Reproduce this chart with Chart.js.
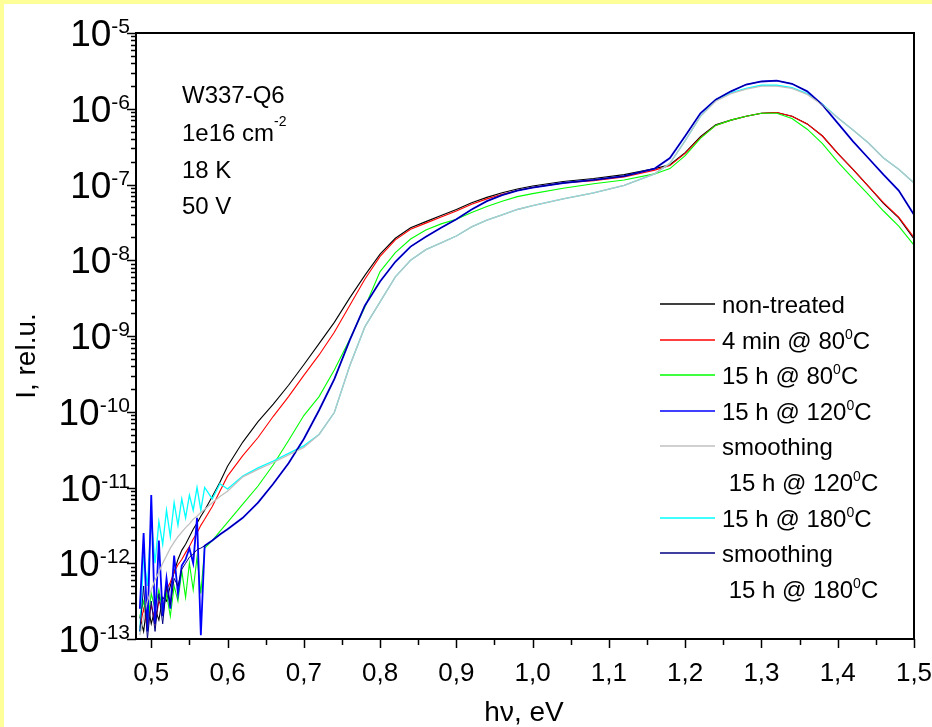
<!DOCTYPE html>
<html>
<head>
<meta charset="utf-8">
<script src="https://cdn.jsdelivr.net/npm/chart.js@4/dist/chart.umd.min.js"></script>
<style>
  body { margin: 0; background: #fff; }
  canvas { display: block; }
</style>
</head>
<body>
<canvas id="grafico" width="932" height="727"></canvas>
<script>
// photon energy, eV
const energy = [
  0.485, 0.49, 0.495, 0.50, 0.505, 0.51, 0.515, 0.52, 0.525, 0.53,
  0.535, 0.54, 0.545, 0.55, 0.555, 0.56, 0.565, 0.57, 0.58, 0.59,
  0.60, 0.62, 0.64, 0.66, 0.68, 0.70, 0.72, 0.74, 0.76, 0.78,
  0.80, 0.82, 0.84, 0.86, 0.88, 0.90, 0.92, 0.94, 0.96, 0.98,
  1.00, 1.04, 1.08, 1.12, 1.16, 1.18, 1.20, 1.22, 1.24, 1.26,
  1.28, 1.30, 1.32, 1.34, 1.36, 1.38, 1.40, 1.42, 1.44, 1.46,
  1.48, 1.50
];

// log10 of I (rel.u.)
const logNonTreated = [
  -12.7, -12.9, -12.5, -12.8, -12.6, -12.75, -12.45, -12.5, -12.3, -12.12,
  -11.95, -11.83, -11.75, -11.65, -11.55, -11.47, -11.38, -11.3, -11.12, -10.93,
  -10.72, -10.4, -10.13, -9.9, -9.65, -9.38, -9.1, -8.82, -8.5, -8.2,
  -7.92, -7.71, -7.57, -7.49, -7.41, -7.33, -7.24, -7.17, -7.11, -7.06,
  -7.02, -6.96, -6.92, -6.87, -6.79, -6.74, -6.58, -6.37, -6.21, -6.15,
  -6.1, -6.06, -6.05, -6.1, -6.2, -6.36, -6.59, -6.8, -7.02, -7.25,
  -7.44, -7.72
];
const log4min80 = [
  -12.85, -12.6, -12.85, -12.55, -12.8, -12.5, -12.6, -12.35, -12.25, -12.12,
  -12.02, -11.95, -11.86, -11.78, -11.68, -11.6, -11.5, -11.42, -11.25, -11.05,
  -10.85, -10.58, -10.34, -10.06, -9.8, -9.52, -9.25, -8.95, -8.6, -8.25,
  -7.95, -7.73, -7.59, -7.51, -7.43, -7.35, -7.26, -7.19, -7.13, -7.08,
  -7.04, -6.98, -6.95, -6.9, -6.81, -6.75, -6.59, -6.38, -6.22, -6.15,
  -6.1, -6.06, -6.05, -6.1, -6.2, -6.36, -6.59, -6.8, -7.02, -7.24,
  -7.43, -7.7
];
const log15h80 = [
  -12.7, -12.5, -12.8, -12.4, -12.6, -12.35, -12.65, -12.4, -12.7, -12.3,
  -12.5, -12.1, -12.45, -12.0, -12.35, -11.92, -12.4, -11.8, -11.7, -11.58,
  -11.46, -11.22, -10.98, -10.7, -10.38, -10.05, -9.8, -9.45, -9.05, -8.62,
  -8.15, -7.9, -7.72, -7.6, -7.52, -7.46, -7.37, -7.29, -7.22, -7.16,
  -7.12, -7.05, -6.99, -6.94, -6.86, -6.79, -6.62, -6.39, -6.22, -6.15,
  -6.1, -6.06, -6.06, -6.13, -6.27, -6.46, -6.7, -6.92, -7.13, -7.35,
  -7.55, -7.8
];
const log15h120 = [
  -12.6, -11.6, -12.9, -11.1, -12.8, -11.7, -12.7, -12.2, -12.6, -11.9,
  -12.4, -12.03, -11.95, -11.8, -12.0, -11.4, -12.95, -11.77, -11.7, -11.62,
  -11.55, -11.4, -11.2, -10.95, -10.68, -10.36, -9.98, -9.57, -9.06, -8.6,
  -8.28, -8.02, -7.82, -7.69, -7.57, -7.46, -7.33, -7.22, -7.14, -7.08,
  -7.04, -6.98, -6.94, -6.89, -6.79, -6.65, -6.36, -6.06, -5.88, -5.77,
  -5.68, -5.64, -5.63, -5.67, -5.77, -5.95, -6.19, -6.43, -6.65, -6.87,
  -7.08, -7.4
];
const logSmooth120 = [
  -12.95, -12.72, -12.5, -12.35, -12.22, -12.12, -12.0, -11.9, -11.8, -11.72,
  -11.65, -11.59, -11.53, -11.48, -11.42, -11.38, -11.33, -11.29, -11.2, -11.12,
  -11.05, -10.86, -10.76, -10.67, -10.57, -10.47, -10.3, -10.01, -9.4, -8.88,
  -8.55, -8.22, -8.0, -7.86, -7.77, -7.68, -7.56, -7.47, -7.4, -7.33,
  -7.28, -7.19, -7.11, -7.01, -6.86, -6.72, -6.42, -6.1, -5.9, -5.8,
  -5.74, -5.7, -5.7, -5.73, -5.81, -5.95, -6.12, -6.28, -6.45, -6.65,
  -6.8, -6.98
];
const log15h180 = [
  -12.9, -11.9, -12.3, -11.4, -12.0, -11.45, -11.75, -11.3, -11.65, -11.2,
  -11.5, -11.15, -11.4, -11.1, -11.3, -11.0, -11.3, -11.0, -11.15, -10.95,
  -11.02, -10.85, -10.74, -10.65, -10.55, -10.45, -10.3, -10.01, -9.4, -8.88,
  -8.55, -8.22, -8.0, -7.86, -7.77, -7.68, -7.56, -7.47, -7.4, -7.33,
  -7.28, -7.19, -7.11, -7.01, -6.86, -6.72, -6.42, -6.1, -5.89, -5.79,
  -5.73, -5.69, -5.69, -5.72, -5.8, -5.94, -6.12, -6.28, -6.45, -6.65,
  -6.8, -6.98
];
const logSmooth180 = [
  -12.9, -12.3, -13.0, -12.5, -12.9, -12.4, -12.8, -12.3, -12.55, -12.2,
  -12.3, -12.08, -12.0, -11.92, -11.88, -11.82, -11.8, -11.77, -11.7, -11.62,
  -11.55, -11.4, -11.2, -10.95, -10.68, -10.36, -9.98, -9.57, -9.06, -8.6,
  -8.28, -8.02, -7.82, -7.69, -7.57, -7.46, -7.33, -7.22, -7.14, -7.08,
  -7.04, -6.98, -6.94, -6.89, -6.79, -6.65, -6.36, -6.06, -5.88, -5.77,
  -5.68, -5.64, -5.63, -5.67, -5.77, -5.95, -6.19, -6.43, -6.65, -6.87,
  -7.08, -7.4
];

const seriesLabels = [
  "non-treated",
  "4 min @ 80⁰C",
  "15 h @ 80⁰C",
  "15 h @ 120⁰C",
  "smoothing\n 15 h @ 120⁰C",
  "15 h @ 180⁰C",
  "smoothing\n 15 h @ 180⁰C"
];
const seriesColors = ["#000000", "#ff0000", "#00ff00", "#0000ff", "#c0c0c0", "#00ffff", "#000080"];
const seriesLogs = [logNonTreated, log4min80, log15h80, log15h120, logSmooth120, log15h180, logSmooth180];
// lower value is drawn on top
const seriesOrder = [7, 6, 5, 3, 2, 4, 1];
const seriesWidths = [1.1, 1.1, 1.1, 1.8, 1.3, 1.3, 1.0];

const yTickValues = [1e-13, 1e-12, 1e-11, 1e-10, 1e-9, 1e-8, 1e-7, 1e-6, 1e-5];
const yTickLabels = ["10⁻¹³", "10⁻¹²", "10⁻¹¹", "10⁻¹⁰", "10⁻⁹", "10⁻⁸", "10⁻⁷", "10⁻⁶", "10⁻⁵"];
const xTickValues = [0.5, 0.6, 0.7, 0.8, 0.9, 1.0, 1.1, 1.2, 1.3, 1.4, 1.5];
const xTickLabels = ["0,5", "0,6", "0,7", "0,8", "0,9", "1,0", "1,1", "1,2", "1,3", "1,4", "1,5"];
const infoLines = ["W337-Q6", "1e16 cm⁻²", "18 K", "50 V"];

const FONT = '"Liberation Sans", Arial, sans-serif';
const SUP = { "⁰": "0", "¹": "1", "²": "2", "³": "3", "⁴": "4", "⁵": "5", "⁶": "6", "⁷": "7", "⁸": "8", "⁹": "9", "⁻": "-" };

function splitRuns(text) {
  let runs = [];
  for (const ch of text) {
    const sup = ch in SUP;
    const c = sup ? SUP[ch] : ch;
    if (runs.length && runs[runs.length - 1].sup === sup) runs[runs.length - 1].t += c;
    else runs.push({ t: c, sup: sup });
  }
  return runs;
}

// text with superscripts, y is the baseline
function drawRich(ctx, text, x, y, size, supSize, rise, align) {
  const runs = splitRuns(text);
  let total = 0;
  runs.forEach((r) => {
    ctx.font = `${r.sup ? supSize : size}px ${FONT}`;
    r.w = ctx.measureText(r.t).width;
    total += r.w;
  });
  let cx = align === "right" ? x - total : align === "center" ? x - total / 2 : x;
  ctx.textAlign = "left";
  ctx.textBaseline = "alphabetic";
  runs.forEach((r) => {
    ctx.font = `${r.sup ? supSize : size}px ${FONT}`;
    ctx.fillText(r.t, cx, r.sup ? y - rise : y);
    cx += r.w;
  });
}

const datasets = seriesLogs.map((arr, i) => ({
  label: seriesLabels[i],
  data: energy.map((e, j) => ({ x: e, y: Math.pow(10, arr[j]) })),
  borderColor: seriesColors[i],
  borderWidth: seriesWidths[i],
  pointRadius: 0,
  tension: 0,
  order: seriesOrder[i]
}));

const background = {
  id: "background",
  beforeDraw(chart) {
    const ctx = chart.ctx;
    ctx.save();
    ctx.fillStyle = "#ffffff";
    ctx.fillRect(0, 0, chart.width, chart.height);
    ctx.fillStyle = "#ffff99";
    ctx.fillRect(0, 0, chart.width, 4);
    ctx.fillRect(0, 0, 4, chart.height);
    ctx.restore();
  }
};

const decorations = {
  id: "decorations",
  afterDraw(chart) {
    const ctx = chart.ctx;
    const a = chart.chartArea;
    const xs = chart.scales.x, ys = chart.scales.y;
    ctx.save();
    ctx.strokeStyle = "#000";
    ctx.fillStyle = "#000";

    // frame
    ctx.lineWidth = 2;
    ctx.strokeRect(a.left, a.top, a.right - a.left, a.bottom - a.top);

    // x ticks
    ctx.lineWidth = 1.5;
    ctx.beginPath();
    for (let k = 10; k <= 30; k++) {
      const v = k * 0.05;
      const px = Math.round(xs.getPixelForValue(v)) + 0.5;
      const len = k % 2 === 0 ? 9 : 6;
      ctx.moveTo(px, a.bottom);
      ctx.lineTo(px, a.bottom + len);
    }
    // y ticks, major and minor
    for (let d = -13; d <= -5; d++) {
      for (let m = 1; m <= 9; m++) {
        if (d === -5 && m > 1) break;
        const py = Math.round(ys.getPixelForValue(m * Math.pow(10, d))) + 0.5;
        const len = m === 1 ? 9 : 5;
        ctx.moveTo(a.left, py);
        ctx.lineTo(a.left - len, py);
      }
    }
    ctx.stroke();

    // tick labels
    yTickValues.forEach((v, i) => {
      const py = ys.getPixelForValue(v);
      drawRich(ctx, yTickLabels[i], 130, py + 13, 37, 21, 13, "right");
    });
    xTickValues.forEach((v, i) => {
      drawRich(ctx, xTickLabels[i], xs.getPixelForValue(v), 681, 26, 16, 10, "center");
    });

    // axis titles
    drawRich(ctx, "hν, eV", 524, 721, 28, 17, 10, "center");
    ctx.save();
    ctx.translate(35, 356);
    ctx.rotate(-Math.PI / 2);
    drawRich(ctx, "I, rel.u.", 0, 0, 28, 17, 10, "center");
    ctx.restore();

    // sample info
    const infoBase = [103, 141, 178, 214];
    infoLines.forEach((t, i) => drawRich(ctx, t, 182, infoBase[i], 24, 14, 15, "left"));

    // legend
    let row = 0;
    chart.data.datasets.forEach((ds) => {
      const lines = ds.label.split("\n");
      lines.forEach((t, k) => {
        const cy = Math.round(304 + row * 35.6);
        if (k === 0) {
          ctx.strokeStyle = ds.borderColor;
          ctx.lineWidth = 1.5;
          ctx.beginPath();
          ctx.moveTo(660, cy);
          ctx.lineTo(715, cy);
          ctx.stroke();
        }
        ctx.fillStyle = "#000";
        drawRich(ctx, t, 722, cy + 8.5, 24, 14, 10, "left");
        row++;
      });
    });
    ctx.restore();
  }
};

new Chart(document.getElementById("grafico").getContext("2d"), {
  type: "line",
  data: { datasets: datasets },
  options: {
    responsive: false,
    animation: false,
    devicePixelRatio: 1,
    layout: { padding: { left: 136, top: 33, right: 18, bottom: 88 } },
    plugins: { legend: { display: false }, tooltip: { enabled: false } },
    scales: {
      x: { type: "linear", min: 0.48, max: 1.5, display: false },
      y: { type: "logarithmic", min: 1e-13, max: 1e-5, display: false }
    }
  },
  plugins: [background, decorations]
});
</script>
</body>
</html>
